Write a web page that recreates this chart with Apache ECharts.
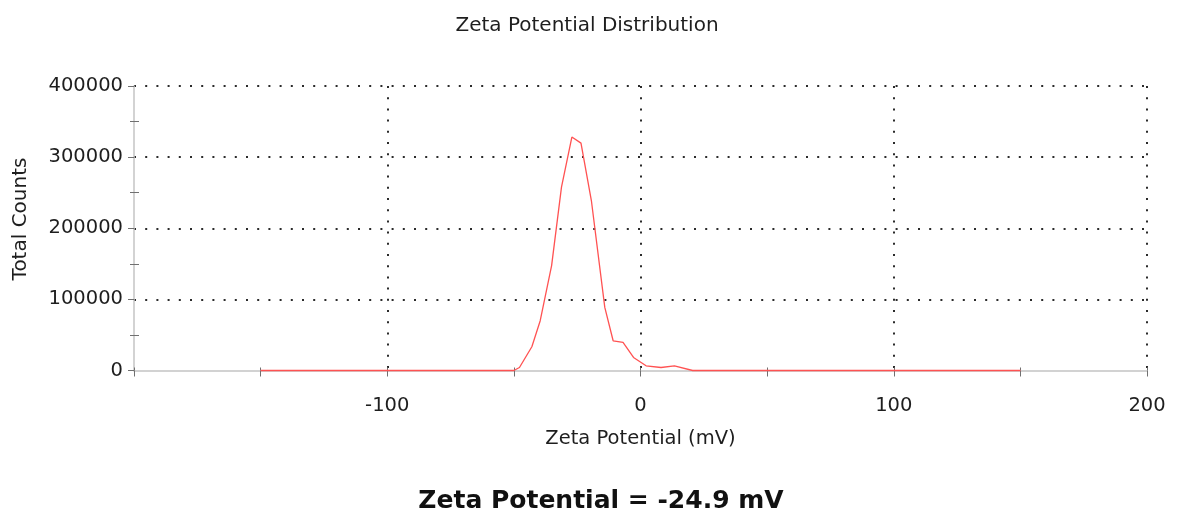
<!DOCTYPE html>
<html>
<head>
<meta charset="utf-8">
<title>Zeta Potential Distribution</title>
<script src="https://cdn.jsdelivr.net/npm/echarts@6/dist/echarts.min.js"></script>
<style>
  html, body { margin: 0; padding: 0; background: #ffffff; }
  #chart { width: 1178px; height: 516px; }
</style>
</head>
<body>
<div id="chart"></div>
<script>
// Zeta potential (mV) and total counts of the measured distribution
const potentialMv = [-150, -50, -47.8, -42.9, -39.6, -35.1, -31.2, -27.1, -23.5, -19.4, -14.1, -10.8, -6.9, -2.75, 2.2, 8.1, 13.4, 20.6, 150];
const totalCounts = [0, 0, 4200, 33400, 70000, 147500, 257800, 328200, 319700, 239000, 88700, 41800, 39400, 18300, 6600, 4200, 6600, 0, 0];

// Axis ranges and tick steps
const xRange = [-200, 200];
const xStep = 100;
const yRange = [0, 400000];
const yStep = 100000;

const chartTitle = 'Zeta Potential Distribution';
const xAxisTitle = 'Zeta Potential (mV)';
const yAxisTitle = 'Total Counts';
const resultText = 'Zeta Potential = -24.9 mV';

const FONT = 'DejaVu Sans';
const TEXT = '#1e1e1e';
const TICK = '#707070';
const dotted = { color: '#2b2b2b', width: 2, type: [2, 9.2], cap: 'butt' };

const chart = echarts.init(document.getElementById('chart'));

chart.setOption({
  backgroundColor: '#ffffff',
  animation: false,
  title: {
    text: chartTitle,
    left: 582,
    top: 11,
    textAlign: 'center',
    textStyle: { fontFamily: FONT, fontSize: 20, fontWeight: 'normal', color: TEXT }
  },
  grid: { left: 134, right: 31, top: 86, bottom: 145.5 },
  xAxis: [
    {
      type: 'value',
      min: xRange[0], max: xRange[1], interval: xStep,
      name: xAxisTitle,
      nameLocation: 'middle',
      nameGap: 58,
      nameTextStyle: { fontFamily: FONT, fontSize: 19.5, color: TEXT },
      axisLine: { show: true, onZero: false, lineStyle: { color: '#c4c4c4', width: 1.5 } },
      axisTick: { show: true, length: 6, lineStyle: { color: TICK, width: 1 } },
      minorTick: { show: true, splitNumber: 2, length: 6, lineStyle: { color: TICK, width: 1 } },
      axisLabel: {
        showMinLabel: false,
        margin: 25,
        fontFamily: FONT, fontSize: 19.5, color: TEXT,
        formatter: v => String(v)
      },
      splitLine: { show: true, showMinLine: false, lineStyle: dotted }
    },
    {
      // inner half of the crossing tick marks
      type: 'value',
      position: 'bottom',
      min: xRange[0], max: xRange[1], interval: xStep,
      axisLine: { show: false, onZero: false },
      axisTick: { show: true, inside: true, length: 3, lineStyle: { color: TICK, width: 1 } },
      minorTick: { show: true, splitNumber: 2, length: 3, lineStyle: { color: TICK, width: 1 } },
      axisLabel: { show: false },
      splitLine: { show: false }
    }
  ],
  yAxis: [
    {
      type: 'value',
      position: 'left',
      min: yRange[0], max: yRange[1], interval: yStep,
      axisLine: { show: true, onZero: false, lineStyle: { color: '#c4c4c4', width: 1.5 } },
      axisTick: { show: true, length: 6, lineStyle: { color: TICK, width: 1 } },
      minorTick: { show: true, splitNumber: 2, length: 4, lineStyle: { color: TICK, width: 1 } },
      axisLabel: {
        margin: 11,
        padding: [8, 0, 0, 0],
        fontFamily: FONT, fontSize: 19.5, color: TEXT,
        formatter: v => String(v)
      },
      splitLine: { show: true, showMinLine: false, lineStyle: dotted }
    },
    {
      type: 'value',
      position: 'left',
      min: yRange[0], max: yRange[1], interval: yStep,
      axisLine: { show: false, onZero: false },
      axisTick: { show: false, inside: true },
      minorTick: { show: true, splitNumber: 2, length: 5, lineStyle: { color: TICK, width: 1 } },
      axisLabel: { show: false },
      splitLine: { show: false }
    }
  ],
  graphic: [
    {
      type: 'text',
      x: 21, y: 219,
      rotation: Math.PI / 2,
      style: {
        text: yAxisTitle,
        fontFamily: FONT, fontSize: 20, fill: TEXT,
        align: 'center', verticalAlign: 'middle'
      }
    },
    {
      type: 'text',
      x: 601, y: 501,
      style: {
        text: resultText,
        fontFamily: FONT, fontSize: 25, fontWeight: 'bold', fill: '#111111',
        align: 'center', verticalAlign: 'middle'
      }
    }
  ],
  series: [
    {
      type: 'line',
      xAxisIndex: 0,
      yAxisIndex: 0,
      data: potentialMv.map((x, i) => [x, totalCounts[i]]),
      showSymbol: false,
      clip: false,
      lineStyle: { color: '#ff5252', width: 1.3 },
      z: 3
    }
  ]
});
</script>
</body>
</html>
